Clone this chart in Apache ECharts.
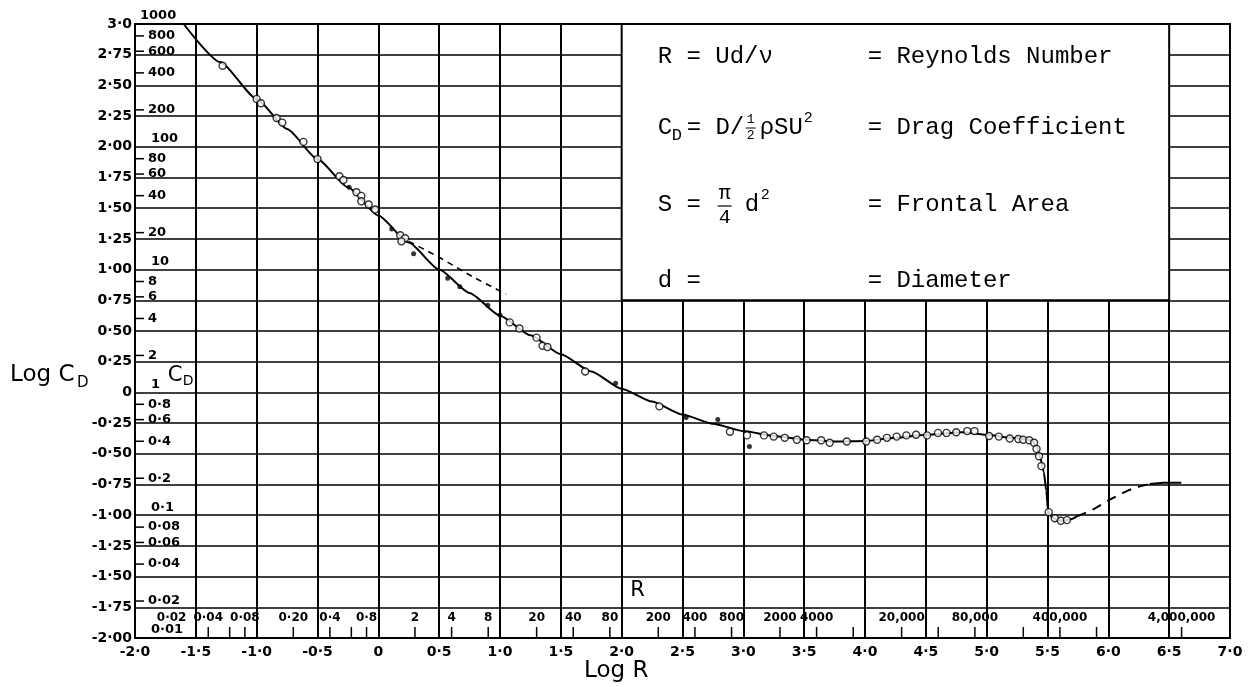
<!DOCTYPE html>
<html>
<head>
<meta charset="utf-8">
<script src="https://cdn.jsdelivr.net/npm/echarts@6/dist/echarts.min.js"></script>
<style>
  html, body { margin: 0; padding: 0; background: #fff; }
  #chart { width: 1250px; height: 687px; }
</style>
</head>
<body>
<div id="chart"></div>
<script>
// Sphere drag: Log CD against Log R.

// Mean drag curve [log R, log CD]
const solidCurve = [
  [-1.60, 3.00], [-1.30, 2.69], [-1.00, 2.39], [-0.75, 2.145], [-0.50, 1.90],
  [-0.25, 1.67], [0.00, 1.44], [0.25, 1.22], [0.50, 1.00], [0.75, 0.81],
  [1.00, 0.625], [1.25, 0.465], [1.50, 0.31], [1.75, 0.17], [2.00, 0.03],
  [2.25, -0.075], [2.50, -0.18], [2.75, -0.255], [3.00, -0.315], [3.25, -0.355],
  [3.50, -0.385], [3.75, -0.40], [4.00, -0.395], [4.25, -0.37], [4.50, -0.345],
  [4.80, -0.325], [5.00, -0.345], [5.20, -0.37], [5.37, -0.39], [5.41, -0.44],
  [5.44, -0.53], [5.47, -0.65], [5.49, -0.80], [5.505, -0.97], [5.53, -1.01],
  [5.58, -1.04], [5.64, -1.045], [5.70, -1.03], [5.74, -1.01]
];

// Low-Reynolds-number branch (dashed)
const oseenCurve = [[0.25, 1.23], [0.50, 1.10], [0.78, 0.94], [1.05, 0.80]];

// Supercritical recovery (dashed) and its tail
const recoveryCurve = [
  [5.74, -1.01], [5.88, -0.95], [6.02, -0.87], [6.16, -0.80], [6.26, -0.765], [6.34, -0.745]
];
const tailCurve = [[6.34, -0.745], [6.45, -0.735], [6.60, -0.735]];

// Measured points, open circles
const openPoints = [
  [-1.28, 2.66], [-1.00, 2.39], [-0.965, 2.355], [-0.836, 2.234], [-0.79, 2.197],
  [-0.616, 2.04], [-0.50, 1.90], [-0.32, 1.76], [-0.287, 1.73], [-0.18, 1.63],
  [-0.14, 1.60], [-0.14, 1.556], [-0.08, 1.53], [-0.027, 1.49], [0.18, 1.28],
  [0.22, 1.255], [0.19, 1.23], [1.08, 0.57], [1.16, 0.52], [1.30, 0.446],
  [1.35, 0.38], [1.39, 0.37], [1.70, 0.17], [2.31, -0.114], [2.89, -0.32],
  [3.03, -0.35], [3.17, -0.35], [3.25, -0.36], [3.34, -0.37], [3.44, -0.385],
  [3.52, -0.39], [3.64, -0.39], [3.71, -0.41], [3.85, -0.40], [4.01, -0.40],
  [4.10, -0.385], [4.18, -0.37], [4.26, -0.36], [4.34, -0.35], [4.42, -0.345],
  [4.51, -0.35], [4.60, -0.33], [4.67, -0.33], [4.75, -0.325], [4.84, -0.315],
  [4.90, -0.315], [5.02, -0.355], [5.10, -0.36], [5.19, -0.375], [5.26, -0.38],
  [5.30, -0.385], [5.35, -0.39], [5.39, -0.41], [5.41, -0.46], [5.43, -0.52],
  [5.45, -0.60], [5.51, -0.975], [5.56, -1.025], [5.61, -1.045], [5.66, -1.04]
];

// Measured points, solid marks
const filledPoints = [
  [-0.24, 1.67], [0.11, 1.33], [0.29, 1.13], [0.57, 0.93], [0.67, 0.86],
  [0.90, 0.71], [1.00, 0.63], [1.95, 0.075], [2.53, -0.205], [2.79, -0.22], [3.05, -0.44]
];

// Inner CD scale
const cdValues = [1000, 800, 600, 400, 200, 100, 80, 60, 40, 20, 10, 8, 6, 4, 2, 1,
  0.8, 0.6, 0.4, 0.2, 0.1, 0.08, 0.06, 0.04, 0.02, 0.01];
const cdTexts = ['1000', '800', '600', '400', '200', '100', '80', '60', '40', '20', '10', '8', '6', '4', '2', '1',
  '0·8', '0·6', '0·4', '0·2', '0·1', '0·08', '0·06', '0·04', '0·02', '0·01'];

// Inner R scale
const rLabelValues = [0.02, 0.04, 0.08, 0.2, 0.4, 0.8, 2, 4, 8, 20, 40, 80, 200, 400, 800,
  2000, 4000, 20000, 80000, 400000, 4000000];
const rLabelTexts = ['0·02', '0·04', '0·08', '0·20', '0·4', '0·8', '2', '4', '8', '20', '40', '80', '200', '400', '800',
  '2000', '4000', '20,000', '80,000', '400,000', '4,000,000'];
const rTickValues = [0.04, 0.06, 0.08, 0.2, 0.4, 0.6, 0.8, 2, 4, 8, 20, 40, 80, 200, 400, 800,
  2000, 4000, 8000, 20000, 40000, 80000, 200000, 400000, 800000, 4000000];

const LOG_X = [-2, 7];
const LOG_Y = [-2, 3];
const keyBox = { x: [2.0, 6.5], y: [0.75, 3.0] };
const rLabelLevel = -1.84;

const HAND = '"DejaVu Sans"';
const MONO = '"Liberation Mono"';
const INK = '#000';

function dotDecimal(v, digits) {
  if (Math.abs(v) < 1e-9) return '0';
  return v.toFixed(digits).replace('.', '·');
}

function txt(x, y, text, font, align) {
  return {
    type: 'text',
    style: {
      x: x, y: y, text: text, font: font, fill: INK,
      align: align || 'left', verticalAlign: 'middle',
      textAlign: align || 'left', textVerticalAlign: 'middle'
    }
  };
}
function seg(x1, y1, x2, y2, w) {
  return { type: 'line', shape: { x1: x1, y1: y1, x2: x2, y2: y2 }, style: { stroke: INK, lineWidth: w || 1.5 } };
}

const chart = echarts.init(document.getElementById('chart'), null, { renderer: 'canvas' });

const option = {
  backgroundColor: '#fff',
  animation: false,
  grid: { left: 135, right: 20, top: 24, bottom: 49, show: true, borderColor: INK, borderWidth: 2, backgroundColor: '#fff' },
  xAxis: {
    type: 'value', min: LOG_X[0], max: LOG_X[1], interval: 0.5,
    axisLine: { show: false }, axisTick: { show: false },
    axisLabel: {
      margin: 7, color: INK, fontFamily: 'DejaVu Sans', fontWeight: 'bold', fontSize: 14,
      formatter: v => dotDecimal(v, 1)
    },
    splitLine: { show: true, lineStyle: { color: INK, width: 2 } }
  },
  yAxis: {
    type: 'value', min: LOG_Y[0], max: LOG_Y[1], interval: 0.25,
    axisLine: { show: false }, axisTick: { show: false },
    axisLabel: {
      margin: 3, color: INK, fontFamily: 'DejaVu Sans', fontWeight: 'bold', fontSize: 14,
      formatter: v => (v === 3 ? '3·0' : dotDecimal(v, 2))
    },
    splitLine: { show: true, lineStyle: { color: INK, width: 1.6 } }
  },
  graphic: [
    { type: 'text', left: 10, top: 364, style: { text: 'Log C', font: '23px ' + HAND, fill: INK } },
    { type: 'text', left: 77, top: 376, style: { text: 'D', font: '15px ' + HAND, fill: INK } },
    { type: 'text', left: 584, top: 660, style: { text: 'Log R', font: '23px ' + HAND, fill: INK } }
  ],
  series: [
    // key box with definitions
    {
      type: 'custom', coordinateSystem: 'cartesian2d', clip: false, z: 3,
      data: [[keyBox.x[0], keyBox.y[1]]],
      renderItem: function (params, api) {
        const tl = api.coord([keyBox.x[0], keyBox.y[1]]);
        const br = api.coord([keyBox.x[1], keyBox.y[0]]);
        const ox = tl[0], oy = tl[1];
        const big = '24px ' + MONO, mid = '20px ' + MONO;
        const lx = ox + 36, rx = ox + 246;
        const r1 = oy + 33, r2 = oy + 104, r3 = oy + 181, r4 = oy + 257;
        return {
          type: 'group',
          children: [
            { type: 'rect', shape: { x: tl[0], y: tl[1], width: br[0] - tl[0], height: br[1] - tl[1] },
              style: { fill: '#fff', stroke: INK, lineWidth: 2 } },
            txt(lx, r1, 'R = Ud/ν', big),
            txt(rx, r1, '= Reynolds Number', big),
            txt(lx, r2, 'C', big),
            txt(lx + 14, r2 + 7, 'D', '17px ' + MONO),
            txt(lx + 29, r2, '= D/', big),
            txt(lx + 93, r2 - 8, '1', '13px ' + MONO, 'center'),
            seg(lx + 88, r2, lx + 98, r2, 1),
            txt(lx + 93, r2 + 8, '2', '13px ' + MONO, 'center'),
            txt(lx + 102, r2, 'ρSU', big),
            txt(lx + 146, r2 - 10, '2', '15px ' + MONO),
            txt(rx, r2, '= Drag Coefficient', big),
            txt(lx, r3, 'S =', big),
            txt(lx + 67, r3 - 11, 'π', mid, 'center'),
            seg(lx + 60, r3 + 1, lx + 74, r3 + 1, 1.2),
            txt(lx + 67, r3 + 13, '4', mid, 'center'),
            txt(lx + 87, r3, 'd', big),
            txt(lx + 103, r3 - 10, '2', '15px ' + MONO),
            txt(rx, r3, '= Frontal Area', big),
            txt(lx, r4, 'd =', big),
            txt(rx, r4, '= Diameter', big)
          ]
        };
      }
    },
    // inner CD scale along the left edge
    {
      type: 'custom', coordinateSystem: 'cartesian2d', clip: false, z: 3,
      data: cdValues.map((v, i) => [LOG_X[0], Math.log10(v), i]),
      renderItem: function (params, api) {
        const ly = api.value(1);
        const i = api.value(2);
        const p = api.coord([LOG_X[0], ly]);
        const decade = Math.abs(ly - Math.round(ly)) < 1e-6;
        const font = 'bold 13px ' + HAND;
        if (decade) {
          const dx = cdValues[i] === 1000 ? 5 : 16;
          return { type: 'group', children: [txt(p[0] + dx, p[1] - 8, cdTexts[i], font)] };
        }
        return {
          type: 'group',
          children: [seg(p[0], p[1], p[0] + 9, p[1], 1.5), txt(p[0] + 13, p[1], cdTexts[i], font)]
        };
      }
    },
    // inner R scale along the bottom edge
    {
      type: 'custom', coordinateSystem: 'cartesian2d', clip: false, z: 3,
      data: rLabelValues.map((v, i) => [Math.log10(v), rLabelLevel, i]),
      renderItem: function (params, api) {
        const p = api.coord([api.value(0), api.value(1)]);
        return txt(p[0], p[1], rLabelTexts[api.value(2)], 'bold 12px ' + HAND, 'center');
      }
    },
    {
      type: 'custom', coordinateSystem: 'cartesian2d', clip: false, z: 3,
      data: rTickValues.map(v => [Math.log10(v), LOG_Y[0]]),
      renderItem: function (params, api) {
        const p = api.coord([api.value(0), api.value(1)]);
        return seg(p[0], p[1], p[0], p[1] - 11, 1.5);
      }
    },
    // scale captions inside the plot
    {
      type: 'custom', coordinateSystem: 'cartesian2d', clip: false, z: 3,
      data: [[-1.73, 0.14], [2.13, -1.61]],
      renderItem: function (params, api) {
        const p = api.coord([api.value(0), api.value(1)]);
        if (params.dataIndex === 0) {
          return { type: 'group', children: [
            txt(p[0], p[1], 'C', '21px ' + HAND),
            txt(p[0] + 15, p[1] + 6, 'D', '14px ' + HAND)
          ] };
        }
        return txt(p[0], p[1], 'R', '21px ' + HAND, 'center');
      }
    },
    {
      type: 'line', data: solidCurve, showSymbol: false, smooth: 0.2, smoothMonotone: 'x', z: 4,
      lineStyle: { color: INK, width: 2 }
    },
    {
      type: 'line', data: oseenCurve, showSymbol: false, smooth: 0.3, z: 4,
      lineStyle: { color: INK, width: 1.6, type: [6, 5] }
    },
    {
      type: 'line', data: recoveryCurve, showSymbol: false, smooth: 0.3, z: 4,
      lineStyle: { color: INK, width: 2, type: [10, 7] }
    },
    {
      type: 'line', data: tailCurve, showSymbol: false, z: 4,
      lineStyle: { color: INK, width: 2 }
    },
    {
      type: 'scatter', data: openPoints, symbol: 'circle', symbolSize: 7, z: 5,
      itemStyle: { color: '#fff', borderColor: INK, borderWidth: 1.4 }
    },
    {
      type: 'scatter', data: filledPoints, symbol: 'circle', symbolSize: 5, z: 5,
      itemStyle: { color: INK }
    }
  ]
};

chart.setOption(option);
</script>
</body>
</html>
